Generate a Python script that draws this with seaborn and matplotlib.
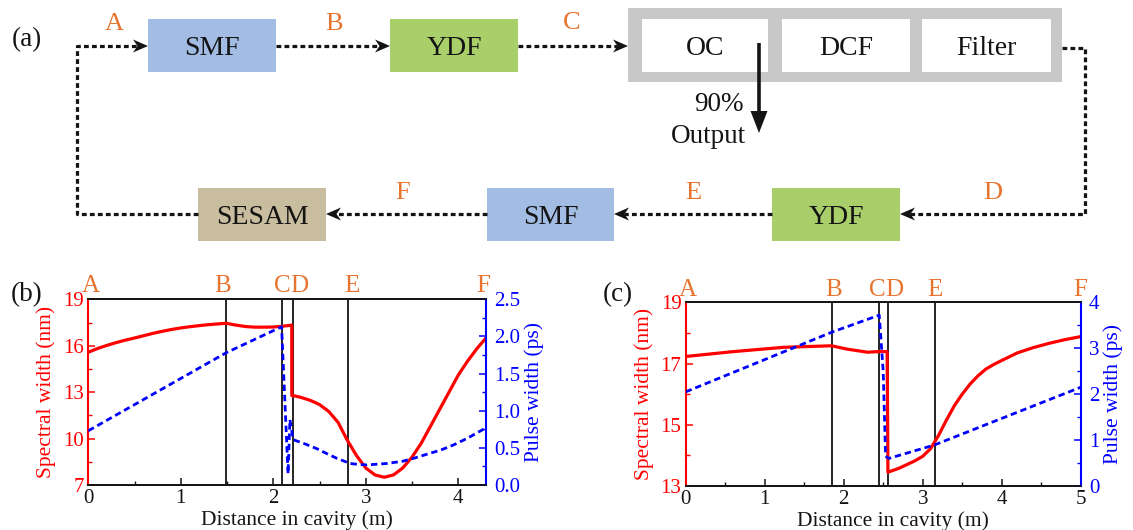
import numpy as np
import pandas as pd
import matplotlib
matplotlib.use("Agg")
import matplotlib.pyplot as plt
from matplotlib.patches import Rectangle, Polygon
from matplotlib.ticker import MultipleLocator, FixedLocator, FormatStrFormatter
import seaborn as sns

# ---------------- data ----------------
# panel (b)
b_spec_x = [0, 0.1, 0.2, 0.3, 0.4, 0.5, 0.6, 0.7, 0.8, 0.9, 1.0, 1.1, 1.2, 1.3, 1.4, 1.49,
            1.6, 1.7, 1.8, 1.9, 2.0, 2.1, 2.2, 2.2,
            2.23, 2.3, 2.4, 2.5, 2.6, 2.7, 2.8, 2.9, 3.0, 3.1, 3.2, 3.3, 3.4, 3.5,
            3.6, 3.7, 3.8, 3.9, 4.0, 4.1, 4.2, 4.3]
b_spec_y = [15.58, 15.82, 16.02, 16.2, 16.36, 16.5, 16.65, 16.8, 16.93, 17.05, 17.15, 17.23,
            17.3, 17.36, 17.41, 17.45,
            17.33, 17.24, 17.2, 17.2, 17.21, 17.26, 17.33, 12.78,
            12.76, 12.66, 12.47, 12.2, 11.75, 11.05, 9.9, 8.9, 8.1, 7.65, 7.5, 7.65, 8.1, 8.8,
            9.7, 10.8, 11.9, 13.0, 14.1, 15.0, 15.8, 16.5]
b_pulse_x = [0, 1.49, 2.09, 2.16, 2.18, 2.215, 2.35, 2.469, 2.55, 2.686, 2.83, 2.9, 3.01, 3.23,
             3.4, 3.52, 3.65, 3.81, 3.95, 4.10, 4.2, 4.30]
b_pulse_y = [0.73, 1.78, 2.13, 0.15, 0.88, 0.61, 0.55, 0.49, 0.44, 0.36, 0.29, 0.28, 0.27, 0.29,
             0.32, 0.36, 0.41, 0.47, 0.54, 0.63, 0.70, 0.77]
b_lines = [1.49, 2.09, 2.215, 2.81]          # B, C, D, E
b_xmax = 4.3
b_left_ticks = [7, 10, 13, 16, 19]
b_right_ticks = [0.0, 0.5, 1.0, 1.5, 2.0, 2.5]

# panel (c)
c_spec_x = [0, 0.605, 1.24, 1.846, 2.045, 2.30, 2.447, 2.55, 2.56,
            2.7, 2.8, 2.9, 3.0, 3.1, 3.2, 3.3, 3.4, 3.5, 3.6, 3.7, 3.8, 3.9, 4.0,
            4.2, 4.4, 4.6, 4.8, 5.0]
c_spec_y = [17.23, 17.39, 17.53, 17.58, 17.47, 17.37, 17.39, 17.39, 13.45,
            13.58, 13.70, 13.82, 13.97, 14.22, 14.65, 15.15, 15.62, 16.0, 16.33, 16.6, 16.82,
            16.97, 17.1, 17.35, 17.52, 17.66, 17.78, 17.88]
c_pulse_x = [0, 1.85, 2.45, 2.50, 2.53, 2.57, 3.143, 5.0]
c_pulse_y = [2.05, 3.35, 3.72, 2.50, 0.65, 0.60, 0.89, 2.15]
c_lines = [1.85, 2.45, 2.555, 3.155]
c_xmax = 5.0
c_left_ticks = [13, 15, 17, 19]
c_right_ticks = [0, 1, 2, 3, 4]

point_letters = ["A", "B", "C", "D", "E", "F"]
b_letter_x = [0.03, 1.45, 2.10, 2.28, 2.85, 4.27]
c_letter_x = [0.03, 1.87, 2.42, 2.635, 3.16, 5.0]

# ---------------- style ----------------
sns.set_theme(style="ticks")
plt.rcParams["font.family"] = ["Liberation Serif", "DejaVu Serif"]

ORANGE = "#E8732E"
RED = "#FF0000"
BLUE = "#0000FF"
INK = "#141414"
PX = 72.0 / 100.0  # points per pixel at dpi 100

W, H = 1133, 530
fig = plt.figure(figsize=(W / 100, H / 100), dpi=100)
fig.patch.set_facecolor("white")

# ---------------- (a) schematic on a pixel-coordinate canvas ----------------
ax0 = fig.add_axes([0, 0, 1, 1])
ax0.set_xlim(0, W)
ax0.set_ylim(H, 0)
ax0.axis("off")
ax0.patch.set_alpha(0)

def ctext(x, yc, s, size, color=INK, ha="center"):
    base = yc + 0.33 * size / PX
    ax0.text(x, base, s, fontsize=size, color=color, ha=ha, va="baseline")

boxes = [  # label, x0, y0, x1, y1, face
    ("SMF", 148, 19, 276, 72, "#A3BCE3"),
    ("YDF", 390, 19, 518, 72, "#A9CF6B"),
    ("SESAM", 198, 188, 326, 241, "#C9BD9F"),
    ("SMF", 487, 188, 614, 241, "#A3BCE3"),
    ("YDF", 772, 188, 900, 241, "#A9CF6B"),
]
ax0.add_patch(Rectangle((628, 8), 1062 - 628, 82 - 8, facecolor="#C8C8C8", edgecolor="none"))
inner = [("OC", 642, 19, 768, 72), ("DCF", 782, 19, 910, 72), ("Filter", 922, 19, 1051, 72)]
for lab, x0, y0, x1, y1 in inner:
    ax0.add_patch(Rectangle((x0, y0), x1 - x0, y1 - y0, facecolor="white", edgecolor="none"))
    ctext((x0 + x1) / 2, (y0 + y1) / 2, lab, 20)
for lab, x0, y0, x1, y1, fc in boxes:
    ax0.add_patch(Rectangle((x0, y0), x1 - x0, y1 - y0, facecolor=fc, edgecolor="none"))
    ctext((x0 + x1) / 2, (y0 + y1) / 2, lab, 20)

def dotted(xs, ys):
    ax0.plot(xs, ys, color=INK, lw=2.3, dashes=(1.5, 1.0), dash_capstyle="butt")

def head(xt, yt, d):
    L, Wd, notch = 15, 6.5, 4.5
    pts = [(xt, yt), (xt - d * L, yt - Wd), (xt - d * (L - notch), yt), (xt - d * L, yt + Wd)]
    ax0.add_patch(Polygon(pts, closed=True, facecolor=INK, edgecolor="none"))

ytop, ybot = 46, 214
dotted([198, 77, 77, 137], [ybot, ybot, ytop, ytop]); head(148, ytop, 1)
dotted([276, 380], [ytop, ytop]); head(390, ytop, 1)
dotted([518, 617], [ytop, ytop]); head(628, ytop, 1)
dotted([1062, 1085, 1085, 910], [48, 48, ybot, ybot]); head(900, ybot, -1)
dotted([772, 624], [ybot, ybot]); head(614, ybot, -1)
dotted([487, 336], [ybot, ybot]); head(326, ybot, -1)

# output arrow
ax0.plot([759, 759], [43, 114], color=INK, lw=2.6, solid_capstyle="butt")
ax0.add_patch(Polygon([(750.5, 111), (767.5, 111), (759, 133)], closed=True, facecolor=INK, edgecolor="none"))
ctext(719, 102, "90%", 19.5)
ctext(708, 134, "Output", 19.5)

for lab, (x, y) in zip(point_letters, [(114, 21), (334, 21), (572, 20), (993, 190), (693, 190), (403, 190)]):
    ctext(x, y, lab, 19, ORANGE)

ctext(27, 37, "(a)", 19.5)
ctext(27, 292, "(b)", 19.5)
ctext(618, 292, "(c)", 19.5)

# ---------------- (b) and (c) ----------------
def panel(rect, sx, sy, px, py, vlines, xmax, ylim_l, yt_l, ymin_l, ylim_r, yt_r, ymin_r,
          rfmt, letter_x):
    ax = fig.add_axes(rect)
    sdf = pd.DataFrame({"x": sx, "y": sy})
    pdf = pd.DataFrame({"x": px, "y": py})
    for v in vlines:
        ax.axvline(v, color=INK, lw=1.3, zorder=1)
    sns.lineplot(data=sdf, x="x", y="y", ax=ax, color=RED, lw=2.3, sort=False,
                 estimator=None, zorder=3)
    ax.set_xlim(0, xmax)
    ax.set_ylim(*ylim_l)
    ax.yaxis.set_major_locator(FixedLocator(yt_l))
    ax.yaxis.set_minor_locator(MultipleLocator(ymin_l, offset=yt_l[0]))
    ax.xaxis.set_major_locator(MultipleLocator(1))
    ax.xaxis.set_minor_locator(MultipleLocator(0.5))
    ax.set_xlabel("Distance in cavity (m)", fontsize=15.5, color=INK, labelpad=0)
    ax.xaxis.set_label_coords(0.5 + 10 / (rect[2] * W), -0.135)
    ax.set_ylabel("Spectral width (nm)", fontsize=15.5, color=RED, labelpad=5)

    ax2 = ax.twinx()
    sns.lineplot(data=pdf, x="x", y="y", ax=ax2, color=BLUE, lw=2.0, sort=False,
                 estimator=None, zorder=2)
    ax2.lines[-1].set_dashes((2.3, 1.4))
    ax2.set_ylim(*ylim_r)
    ax2.yaxis.set_major_locator(FixedLocator(yt_r))
    ax2.yaxis.set_minor_locator(MultipleLocator(ymin_r))
    ax2.yaxis.set_major_formatter(rfmt)
    ax2.set_ylabel("Pulse width (ps)", fontsize=15.5, color=BLUE, labelpad=3)
    ax2.set_xlim(0, xmax)

    for s in ["top", "bottom"]:
        ax.spines[s].set_color(INK); ax.spines[s].set_linewidth(1.3)
        ax2.spines[s].set_color(INK); ax2.spines[s].set_linewidth(1.3)
    ax.spines["left"].set_color(RED); ax.spines["left"].set_linewidth(1.5)
    ax.spines["right"].set_visible(False)
    ax2.spines["left"].set_visible(False)
    ax2.spines["right"].set_color(BLUE); ax2.spines["right"].set_linewidth(1.5)

    ax.tick_params(axis="x", which="both", direction="in", colors=INK, labelsize=15, pad=3,
                   top=False)
    ax.tick_params(axis="x", which="major", length=5, width=1.1)
    ax.tick_params(axis="x", which="minor", length=3, width=1.0)
    ax.tick_params(axis="y", which="both", direction="in", colors=RED, labelsize=15, pad=3)
    ax.tick_params(axis="y", which="major", length=5, width=1.1)
    ax.tick_params(axis="y", which="minor", length=3, width=1.0)
    ax2.tick_params(axis="y", which="both", direction="in", colors=BLUE, labelsize=15, pad=6)
    ax2.tick_params(axis="y", which="major", length=5, width=1.1)
    ax2.tick_params(axis="y", which="minor", length=3, width=1.0)
    ax.grid(False); ax2.grid(False)

    tr = ax.get_xaxis_transform()
    for lab, x in zip(point_letters, letter_x):
        ax.text(x, 1.037, lab, transform=tr, fontsize=18, color=ORANGE, ha="center",
                va="baseline", clip_on=False)
    return ax, ax2

panel([88.3 / W, 1 - 485 / H, (486 - 88.3) / W, (485 - 299.3) / H],
      b_spec_x, b_spec_y, b_pulse_x, b_pulse_y, b_lines, b_xmax,
      (7, 19), b_left_ticks, 1.5, (0, 2.5), b_right_ticks, 0.25, FormatStrFormatter("%.1f"),
      b_letter_x)

panel([685.7 / W, 1 - 486 / H, (1080.7 - 685.7) / W, (486 - 302.3) / H],
      c_spec_x, c_spec_y, c_pulse_x, c_pulse_y, c_lines, c_xmax,
      (13, 19), c_left_ticks, 1, (0, 4), c_right_ticks, 0.5, FormatStrFormatter("%d"),
      c_letter_x)

fig.savefig("out.png", dpi=100, facecolor="white")
